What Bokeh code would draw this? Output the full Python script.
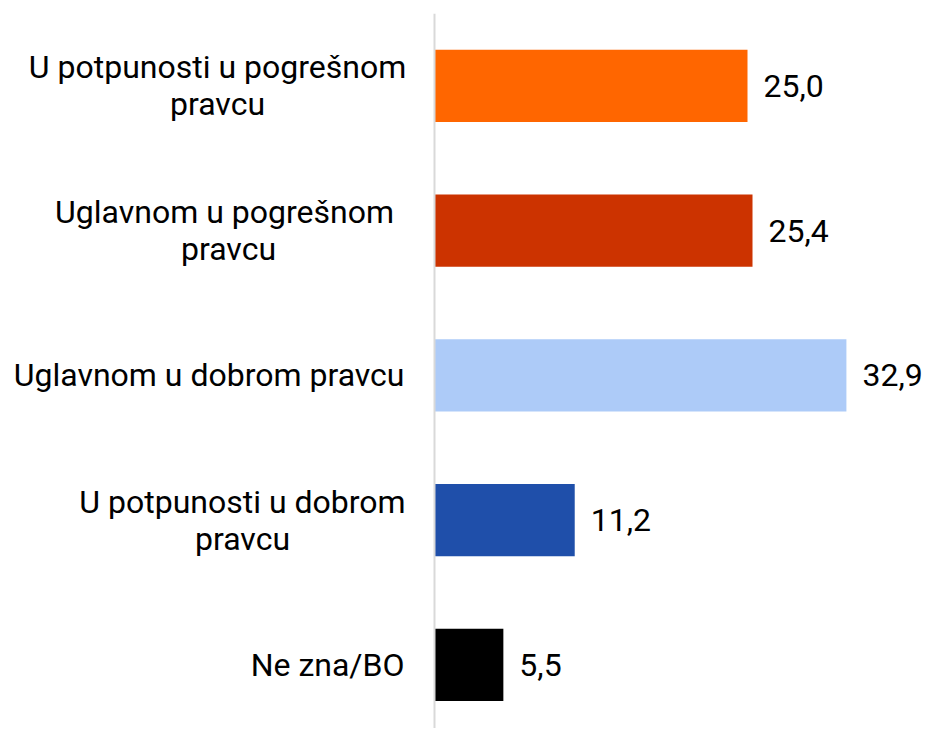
from bokeh.plotting import figure
from bokeh.models import Range1d, ColumnDataSource, Span
from bokeh.core.properties import value
from bokeh.embed import file_html
from bokeh.resources import INLINE

categories = [
    "U potpunosti u pogrešnom\npravcu",
    "Uglavnom u pogrešnom \npravcu",
    "Uglavnom u dobrom pravcu",
    "U potpunosti u dobrom\npravcu",
    "Ne zna/BO",
]
values = [25.0, 25.4, 32.9, 11.2, 5.5]
colors = ["#FF6600", "#CC3300", "#ADCBF8", "#1F4FAA", "#000000"]
value_labels = [f"{v:.1f}".replace(".", ",") for v in values]

# label anchor (page pixels) and alignment for the category labels
label_anchor_px = [217, 228, 404, 242, 404]
label_align = ["center", "center", "right", "center", "right"]

ZERO_PX = 434
PX_PER_UNIT = 12.52
W, H = 925, 728

pos = list(range(len(categories)))
src = ColumnDataSource(dict(y=pos, v=values, c=colors, lab=value_labels))

p = figure(width=W, height=H, output_backend="svg", toolbar_location=None,
           x_range=Range1d(-ZERO_PX / PX_PER_UNIT, (W - ZERO_PX) / PX_PER_UNIT),
           y_range=Range1d(4.44, -0.5),
           min_border_left=0, min_border_right=0, min_border_top=13, min_border_bottom=0)
p.outline_line_color = None
p.grid.visible = False
p.axis.visible = False

p.add_layout(Span(location=0, dimension="height", line_color="#D9D9D9", line_width=2))

p.hbar(y="y", left=0, right="v", height=0.5, fill_color="c", line_color=None, source=src)
p.text(x="v", y="y", text="lab", source=src, x_offset=16, text_baseline="middle",
       text_align="left", text_font=value("Roboto"), text_font_size="32px", text_color="#000000")

for al in ("center", "right"):
    idx = [i for i in pos if label_align[i] == al]
    lsrc = ColumnDataSource(dict(
        x=[(label_anchor_px[i] - ZERO_PX) / PX_PER_UNIT for i in idx],
        y=idx,
        t=[categories[i] for i in idx],
    ))
    p.text(x="x", y="y", text="t", source=lsrc, text_align=al, text_baseline="middle",
           text_font=value("Roboto"), text_font_size="32px", text_color="#000000",
           text_line_height=0.97)

open("out.html", "w").write(file_html(p, INLINE))
